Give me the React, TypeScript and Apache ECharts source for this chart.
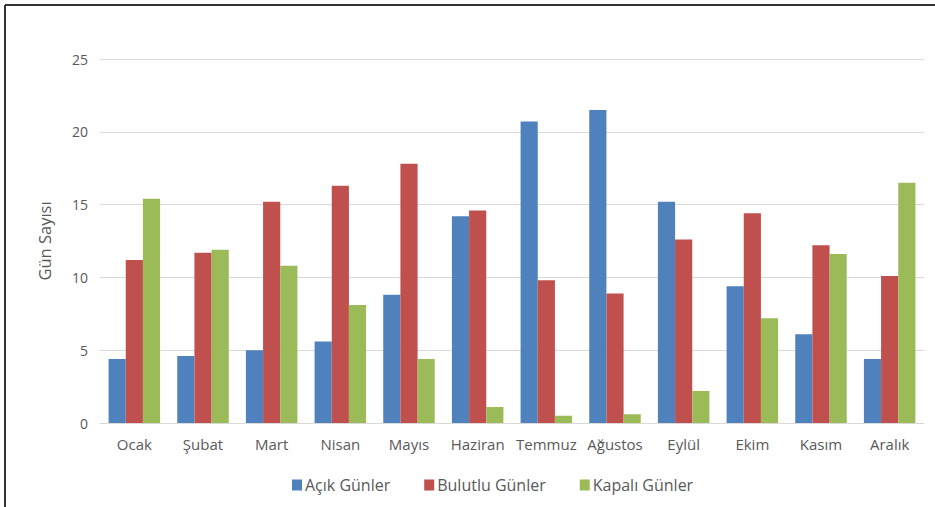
import React, { useEffect, useRef } from "react";
import * as echarts from "echarts";

const months = ["Ocak", "Şubat", "Mart", "Nisan", "Mayıs", "Haziran", "Temmuz", "Ağustos", "Eylül", "Ekim", "Kasım", "Aralık"];
const acik = [4.4, 4.6, 5.0, 5.6, 8.8, 14.2, 20.7, 21.5, 15.2, 9.4, 6.1, 4.4];
const bulutlu = [11.2, 11.7, 15.2, 16.3, 17.8, 14.6, 9.8, 8.9, 12.6, 14.4, 12.2, 10.1];
const kapali = [15.4, 11.9, 10.8, 8.1, 4.4, 1.1, 0.5, 0.6, 2.2, 7.2, 11.6, 16.5];
const seriesNames = ["Açık Günler", "Bulutlu Günler", "Kapalı Günler"];
const colors = ["#4F81BD", "#C0504D", "#9BBB59"];

export default function App() {
  const ref = useRef<HTMLDivElement>(null);
  useEffect(() => {
    document.body.style.margin = "0";
    const chart = echarts.init(ref.current!, null, { renderer: "svg" });
    const font = "'Open Sans', sans-serif";
    chart.setOption({
      animation: false,
      backgroundColor: "#ffffff",
      textStyle: { fontFamily: font },
      color: colors,
      graphic: [
        { type: "line", shape: { x1: 5, y1: 5, x2: 5, y2: 507 }, style: { stroke: "#333", lineWidth: 2 } },
        { type: "line", shape: { x1: 5, y1: 5, x2: 935, y2: 5 }, style: { stroke: "#333", lineWidth: 2 } },
      ],
      grid: { left: 100, right: 11, top: 59, bottom: 84 },
      legend: {
        top: 472,
        left: 287,
        itemWidth: 10,
        itemHeight: 11,
        itemGap: 34,
        icon: "rect",
        textStyle: { color: "#595959", fontSize: 16, fontFamily: font, padding: [0, 0, 0, -2] },
        data: seriesNames,
      },
      xAxis: {
        type: "category",
        data: months,
        axisLine: { show: true, lineStyle: { color: "#D9D9D9" } },
        axisTick: { show: false },
        axisLabel: { color: "#595959", fontSize: 15, margin: 13, interval: 0, fontFamily: font },
      },
      yAxis: {
        type: "value",
        min: 0,
        max: 25,
        interval: 5,
        name: "Gün Sayısı",
        nameLocation: "middle",
        nameGap: 47,
        nameTextStyle: { color: "#595959", fontSize: 16.5, fontFamily: font },
        axisLine: { show: false },
        axisTick: { show: false },
        axisLabel: { color: "#595959", fontSize: 14, margin: 12, fontFamily: font },
        splitLine: { lineStyle: { color: "#D9D9D9" } },
      },
      series: [acik, bulutlu, kapali].map((d, i) => ({
        name: seriesNames[i],
        type: "bar",
        data: d,
        barGap: "0%",
        barCategoryGap: "25%",
        itemStyle: { color: colors[i] },
      })),
    });
    return () => chart.dispose();
  }, []);
  return <div ref={ref} style={{ width: 935, height: 507 }} />;
}
